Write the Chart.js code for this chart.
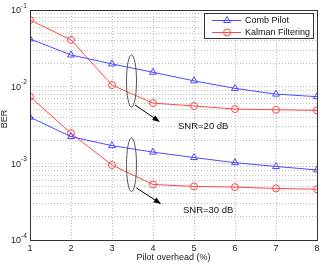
<!DOCTYPE html>
<html>
<head>
<meta charset="utf-8">
<script src="https://cdn.jsdelivr.net/npm/chart.js@4.4.1/dist/chart.umd.min.js"></script>
<style>
  html, body { margin: 0; padding: 0; background: #fff; }
  #wrap { width: 323px; height: 265px; }
</style>
</head>
<body>
<div id="wrap"><canvas id="c"></canvas></div>
<script>
/* BER vs pilot overhead, two SNR groups */

const overhead   = [1, 2, 3, 4, 5, 6, 7, 8];
const comb20     = [0.0419, 0.0259, 0.0198, 0.0154, 0.0119, 0.0095, 0.0080, 0.0074];
const kalman20   = [0.0741, 0.0407, 0.0105, 0.0061, 0.0056, 0.0051, 0.0050, 0.0049];
const comb30     = [0.0040, 0.00223, 0.00170, 0.00140, 0.00119, 0.00102, 0.00091, 0.00082];
const kalman30   = [0.0074, 0.00247, 0.00095, 0.00053, 0.00050, 0.00049, 0.00047, 0.00046];

const yDecades   = [1e-4, 1e-3, 1e-2, 1e-1];
const yMinorSig  = [1, 2, 3, 4, 5, 6, 7, 8, 9];
const legendText = ['Comb Pilot', 'Kalman Filtering'];

const BLUE = '#4b4bff';
const RED  = '#ff4848';
const GRID = '#bcbcbc';
const FONT = '"Liberation Sans", Arial, sans-serif';

function series(label, values, color, style, radius) {
  return {
    label,
    data: overhead.map((x, i) => ({ x, y: values[i] })),
    borderColor: color,
    borderWidth: 1,
    pointStyle: style,
    pointRadius: radius,
    pointBorderColor: color,
    pointBackgroundColor: 'rgba(0,0,0,0)',
    pointBorderWidth: 1,
    tension: 0,
  };
}

/* ── annotations, legend, frame, y labels ───────────────────── */
const decorations = {
  id: 'decorations',
  afterDraw(chart) {
    const { ctx, chartArea: a, scales: { x, y } } = chart;
    const L = Math.round(a.left), R = Math.round(a.right);
    const T = Math.round(a.top),  B = Math.round(a.bottom);
    ctx.save();

    // frame
    ctx.strokeStyle = '#333';
    ctx.lineWidth = 1;
    ctx.setLineDash([]);
    ctx.strokeRect(L + 0.5, T + 0.5, R - L, B - T);

    // y tick labels 10^n
    ctx.fillStyle = '#222';
    yDecades.forEach(v => {
      const py = y.getPixelForValue(v);
      ctx.font = '9px ' + FONT;
      ctx.textAlign = 'right';
      ctx.textBaseline = 'middle';
      ctx.fillText('10', L - 9, py + 1);
      ctx.font = '6.5px ' + FONT;
      ctx.textAlign = 'left';
      ctx.fillText('-' + Math.abs(Math.round(Math.log10(v))), L - 9, py - 4);
    });

    // axis titles
    ctx.font = '9px ' + FONT;
    ctx.textAlign = 'center';
    ctx.textBaseline = 'middle';
    ctx.fillText('Pilot overhead (%)', (L + R) / 2, 258);
    ctx.save();
    ctx.translate(5, 119);
    ctx.rotate(-Math.PI / 2);
    ctx.fillText('BER', 0, 0);
    ctx.restore();

    // ellipses around the curve pairs
    ctx.strokeStyle = '#555';
    [[0.0259, 0.00543], [0.00214, 0.000428]].forEach(([hi, lo]) => {
      const top = y.getPixelForValue(hi), bot = y.getPixelForValue(lo);
      const cx = x.getPixelForValue(3.5);
      ctx.beginPath();
      ctx.ellipse(cx - 1, (top + bot) / 2, 5, (bot - top) / 2, 0, 0, Math.PI * 2);
      ctx.stroke();
    });

    // arrows
    const arrows = [
      [3.56, 0.00577, 4.17, 0.00347],
      [3.59, 0.00048, 4.2, 0.000295],
    ];
    ctx.fillStyle = '#000';
    ctx.strokeStyle = '#000';
    arrows.forEach(([x0, y0, x1, y1]) => {
      const px0 = x.getPixelForValue(x0), py0 = y.getPixelForValue(y0);
      const px1 = x.getPixelForValue(x1), py1 = y.getPixelForValue(y1);
      const ang = Math.atan2(py1 - py0, px1 - px0);
      ctx.beginPath();
      ctx.moveTo(px0, py0);
      ctx.lineTo(px1 - 5 * Math.cos(ang), py1 - 5 * Math.sin(ang));
      ctx.stroke();
      ctx.beginPath();
      ctx.moveTo(px1, py1);
      ctx.lineTo(px1 - 8 * Math.cos(ang - 0.35), py1 - 8 * Math.sin(ang - 0.35));
      ctx.lineTo(px1 - 8 * Math.cos(ang + 0.35), py1 - 8 * Math.sin(ang + 0.35));
      ctx.closePath();
      ctx.fill();
    });

    // SNR labels
    ctx.fillStyle = '#111';
    ctx.font = '9.5px ' + FONT;
    ctx.textAlign = 'left';
    ctx.fillText('SNR=20 dB', x.getPixelForValue(4.61), y.getPixelForValue(0.00308));
    ctx.fillText('SNR=30 dB', x.getPixelForValue(4.73), y.getPixelForValue(0.000247));

    // legend box
    const bw = 109, bh = 25;
    const bx = R - 4 - bw, by = T + 3;
    ctx.fillStyle = '#fff';
    ctx.fillRect(bx, by, bw, bh);
    ctx.strokeStyle = '#333';
    ctx.strokeRect(bx + 0.5, by + 0.5, bw, bh);
    const rows = [
      { color: BLUE, style: 'triangle', r: 4 },
      { color: RED,  style: 'circle',   r: 3.5 },
    ];
    rows.forEach((row, i) => {
      const ry = by + 7 + i * 12;
      ctx.strokeStyle = row.color;
      ctx.beginPath();
      ctx.moveTo(bx + 8, ry + 0.5);
      ctx.lineTo(bx + 37, ry + 0.5);
      ctx.stroke();
      ctx.fillStyle = 'rgba(0,0,0,0)';
      Chart.helpers.drawPoint(ctx, { pointStyle: row.style, radius: row.r, borderWidth: 1, rotation: 0 }, bx + 23, ry + 0.5);
      ctx.fillStyle = '#111';
      ctx.font = '9px ' + FONT;
      ctx.textAlign = 'left';
      ctx.textBaseline = 'middle';
      ctx.fillText(legendText[i], bx + 41, ry + 1);
    });

    ctx.restore();
  }
};

new Chart(document.getElementById('c'), {
  type: 'line',
  data: {
    datasets: [
      series('Comb Pilot', comb20, BLUE, 'triangle', 4),
      series('Kalman Filtering', kalman20, RED, 'circle', 3.5),
      series('Comb Pilot', comb30, BLUE, 'triangle', 4),
      series('Kalman Filtering', kalman30, RED, 'circle', 3.5),
    ]
  },
  options: {
    responsive: true,
    maintainAspectRatio: false,
    animation: false,
    layout: { padding: { top: 10, right: 6, left: 0, bottom: 0 } },
    plugins: { legend: { display: false }, tooltip: { enabled: false } },
    scales: {
      x: {
        type: 'linear',
        min: 1,
        max: 8,
        ticks: {
          stepSize: 1,
          autoSkip: false,
          maxRotation: 0,
          padding: 3,
          color: '#222',
          font: { size: 9, family: FONT },
        },
        grid: { color: GRID, drawTicks: false, lineWidth: 1 },
        border: { display: false, dash: [1, 2] },
        afterFit: s => { s.height = 25; },
      },
      y: {
        type: 'logarithmic',
        min: 1e-4,
        max: 1e-1,
        ticks: { display: false, autoSkip: false },
        grid: { color: GRID, drawTicks: false, lineWidth: 1 },
        border: { display: false, dash: [1, 2] },
        afterBuildTicks: s => {
          const t = [];
          yDecades.slice(0, -1).forEach(d => yMinorSig.forEach(m => t.push({ value: d * m })));
          t.push({ value: yDecades[yDecades.length - 1] });
          s.ticks = t;
        },
        afterFit: s => { s.width = 30; },
      }
    }
  },
  plugins: [decorations]
});
</script>
</body>
</html>
